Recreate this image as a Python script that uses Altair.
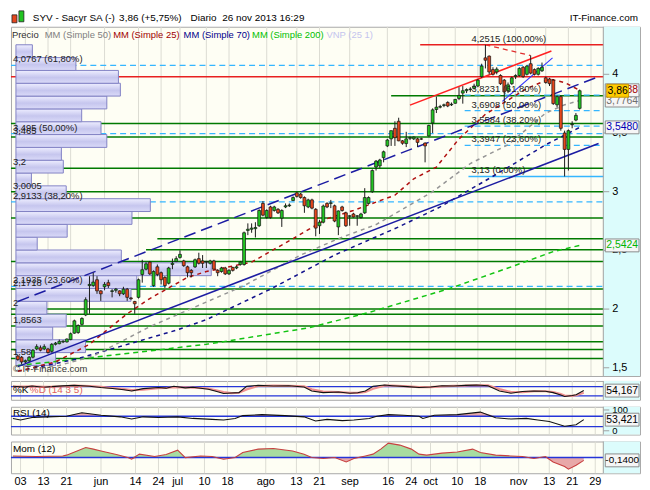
import altair as alt
import pandas as pd

# ---------------- price data: one candle per session (1 May - 26 Nov 2013) ----------------
opens = [1.60,1.59,1.55,1.56,1.59,1.66,1.67,1.66,1.66,1.64,
         1.70,1.705,1.72,1.72,1.74,1.795,1.80,1.87,1.95,2.20,
         2.20,2.25,2.155,2.19,2.225,2.15,2.16,2.155,2.13,2.17,
         2.095,2.065,2.10,2.295,2.34,2.40,2.20,2.36,2.31,2.27,
         2.22,2.38,2.405,2.44,2.41,2.36,2.33,2.36,2.43,2.41,
         2.40,2.39,2.41,2.33,2.32,2.35,2.30,2.355,2.35,2.38,
         2.38,2.67,2.68,2.685,2.71,2.90,2.78,2.87,2.84,2.85,
         2.775,2.87,2.88,2.925,2.99,2.98,2.95,2.87,2.93,2.85,
         2.71,2.74,2.90,2.90,2.88,2.70,2.87,2.82,2.79,2.81,
         2.79,2.78,2.82,2.90,3.00,3.21,3.22,3.29,3.39,3.45,
         3.54,3.60,3.433,3.41,3.455,3.45,3.45,3.45,3.414,3.475,
         3.586,3.70,3.72,3.735,3.76,3.74,3.753,3.794,3.84,3.86,
         3.87,3.88,3.90,3.98,4.14,4.155,4.04,4.02,3.99,3.95,
         3.86,3.92,3.98,3.99,4.06,4.00,4.09,4.04,4.00,4.03,
         3.97,3.96,3.95,3.74,3.81,3.50,3.36,3.57,3.61,3.71]
highs = [1.61,1.60,1.57,1.60,1.66,1.70,1.69,1.70,1.67,1.71,
         1.72,1.74,1.735,1.75,1.80,1.91,1.87,1.93,2.10,2.28,
         2.31,2.28,2.16,2.23,2.25,2.17,2.18,2.16,2.19,2.18,
         2.10,2.07,2.26,2.42,2.40,2.41,2.33,2.38,2.32,2.28,
         2.36,2.43,2.45,2.50,2.42,2.37,2.34,2.43,2.48,2.46,
         2.41,2.42,2.42,2.34,2.36,2.36,2.34,2.36,2.37,2.41,
         2.66,2.73,2.73,2.74,2.85,2.92,2.85,2.88,2.88,2.86,
         2.85,2.90,2.90,2.96,3.00,2.99,2.96,2.94,2.94,2.86,
         2.76,2.89,2.91,2.93,2.89,2.84,2.88,2.83,2.80,2.82,
         2.80,2.82,3.03,2.96,3.19,3.27,3.28,3.35,3.45,3.52,
         3.60,3.63,3.44,3.51,3.47,3.47,3.46,3.46,3.42,3.57,
         3.71,3.81,3.74,3.75,3.77,3.76,3.79,3.89,3.90,3.88,
         3.89,3.92,3.96,4.09,4.2515,4.16,4.06,4.06,4.00,3.96,
         3.93,3.98,4.00,4.06,4.07,4.08,4.16,4.05,4.06,4.10,
         3.98,3.97,3.96,3.82,3.82,3.52,3.53,3.60,3.67,3.87]
lows = [1.56,1.53,1.54,1.55,1.58,1.65,1.64,1.65,1.62,1.63,
        1.69,1.70,1.71,1.715,1.735,1.79,1.79,1.86,1.94,1.96,
        2.19,2.13,2.07,2.16,2.18,2.10,2.14,2.11,2.12,2.07,
        2.08,1.96,2.09,2.225,2.33,2.29,2.19,2.28,2.21,2.18,
        2.21,2.34,2.40,2.43,2.36,2.27,2.27,2.35,2.38,2.35,
        2.35,2.38,2.34,2.28,2.31,2.29,2.29,2.32,2.34,2.37,
        2.37,2.63,2.65,2.61,2.70,2.79,2.77,2.77,2.83,2.81,
        2.70,2.86,2.87,2.92,2.95,2.94,2.82,2.86,2.85,2.62,
        2.64,2.73,2.86,2.86,2.74,2.63,2.83,2.70,2.71,2.78,
        2.71,2.77,2.81,2.89,2.99,3.18,3.20,3.25,3.38,3.39,
        3.39,3.43,3.40,3.38,3.44,3.44,3.38,3.44,3.25,3.47,
        3.50,3.67,3.71,3.72,3.72,3.73,3.75,3.78,3.75,3.84,
        3.85,3.87,3.89,3.97,4.05,4.00,3.99,4.00,3.91,3.76,
        3.84,3.91,3.96,3.98,3.97,3.99,4.00,3.99,3.99,4.02,
        3.92,3.90,3.74,3.72,3.52,3.13,3.18,3.54,3.60,3.70]
closes = [1.57,1.55,1.56,1.59,1.65,1.68,1.65,1.68,1.63,1.70,
          1.71,1.725,1.726,1.745,1.79,1.90,1.86,1.92,2.08,2.21,
          2.23,2.155,2.13,2.21,2.20,2.156,2.17,2.13,2.17,2.10,
          2.088,2.045,2.25,2.335,2.385,2.30,2.32,2.295,2.25,2.20,
          2.35,2.39,2.43,2.466,2.37,2.31,2.31,2.42,2.39,2.39,
          2.406,2.41,2.34,2.31,2.35,2.30,2.33,2.33,2.36,2.40,
          2.65,2.68,2.69,2.695,2.84,2.80,2.84,2.78,2.87,2.82,
          2.84,2.88,2.886,2.95,2.96,2.95,2.88,2.93,2.86,2.69,
          2.74,2.878,2.87,2.905,2.75,2.836,2.84,2.71,2.795,2.785,
          2.795,2.81,2.95,2.95,3.18,3.26,3.27,3.34,3.44,3.52,
          3.46,3.433,3.413,3.45,3.46,3.465,3.42,3.448,3.39,3.564,
          3.697,3.72,3.725,3.74,3.73,3.745,3.786,3.82,3.86,3.87,
          3.875,3.90,3.95,4.07,4.12,4.02,4.00,4.044,3.92,3.85,
          3.91,3.97,3.99,4.05,3.98,4.07,4.01,4.00,4.05,4.06,
          3.93,3.92,3.75,3.81,3.54,3.36,3.52,3.575,3.65,3.86]

# date axis: session index of each labelled day
tick_sessions = [2, 8, 14, 23, 32, 38, 43, 50, 56, 66, 74, 80, 88, 98, 104, 109, 116, 122, 132, 140, 146, 152]
tick_labels = ["03", "13", "21", "jun", "14", "24", "jul", "10", "18", "ago", "13", "21",
               "sep", "16", "24", "oct", "10", "18", "nov", "13", "21", "29"]
price_ticks_v = [1.5, 2, 2.5, 3, 3.5, 4]
price_ticks_t = ["1,5", "2", "2,5", "3", "3,5", "4"]

# moving averages
mm25_s = [0, 10, 19, 24, 29, 35, 45, 50, 62, 73, 82, 89, 100, 105, 111, 117, 124, 130, 135, 141, 145, 149]
mm25_v = [1.47, 1.55, 1.70, 1.83, 1.96, 2.09, 2.27, 2.32, 2.40, 2.60, 2.77, 2.84, 2.97, 3.11, 3.21, 3.45, 3.66, 3.78, 3.88, 3.96, 3.93, 3.8638]
mm50_s = [0, 11, 20, 35, 50, 60, 75, 85, 95, 110, 120, 130, 140, 145, 149]
mm50_v = [1.47, 1.52, 1.60, 1.85, 2.06, 2.20, 2.46, 2.60, 2.72, 3.00, 3.24, 3.40, 3.67, 3.74, 3.7764]
mm70_s = [0, 15, 27, 42, 50, 67, 84, 101, 112, 127, 140, 149]
mm70_v = [1.47, 1.57, 1.68, 1.82, 1.91, 2.17, 2.46, 2.70, 2.87, 3.15, 3.40, 3.548]
mm200_s = [0, 15, 50, 55, 77, 93, 114, 130, 142, 149]
mm200_v = [1.52, 1.57, 1.70, 1.725, 1.84, 1.97, 2.17, 2.35, 2.49, 2.5424]

# trend lines (session, price)
chan_low_s, chan_low_v = [0, 154], [1.51, 3.41]
chan_up_s, chan_up_v = [0, 154], [2.065, 3.98]
red_chan_s, red_chan_v = [104, 141.5], [3.737, 4.198]
steep_s, steep_v = [128.5, 141.8], [3.77, 4.14]
peak_s, peak_v = [124, 136], [4.2515, 4.16]

# horizontal levels
green_levels = [3.58, 3.465, 3.2, 3.0005, 2.775, 2.406, 2.1718, 2.0, 1.955, 1.8563, 1.722, 1.656, 1.58]
green_part_levels, green_part_start = [3.817, 2.60, 2.505], [99, 37, 34]
fib_full_levels = [4.0767, 3.495, 2.9133, 2.1935]
fib_part_levels = [3.8231, 3.6908, 3.5584, 3.3947]
fib_part_start = 118.5
fib_zero, fib_zero_start = 3.13, 119.5
red_levels = [3.98]
red_top, red_top_start = 4.2515, 106.7

left_label_v = [4.0767, 3.495, 3.465, 3.2, 3.0005, 2.9133, 2.1935, 2.1718, 2.0, 1.8563, 1.58]
left_label_t = ["4,0767 (61,80%)", "3,495 (50,00%)", "3,465", "3,2", "3,0005", "2,9133 (38,20%)",
                "2,1935 (23,60%)", "2,1718", "2", "1,8563", "1,58"]
fib_label_v = [4.2515, 3.8231, 3.6908, 3.5584, 3.3947, 3.13]
fib_label_t = ["4,2515 (100,00%)", "3,8231 (61,80%)", "3,6908 (50,00%)", "3,5584 (38,20%)",
               "3,3947 (23,60%)", "3,13 (0,00%)"]
fib_label_session = 120.3

# volume by price (VNP 25 1), relative volume per price bin, lowest bin first
vnp_volume = [41, 72, 38, 52, 32, 119, 125, 202, 109, 22, 53, 120, 139, 52, 16, 49, 47, 94, 88, 68, 94, 108, 106, 62, 17]
vnp_min, vnp_max = 1.52, 4.2515

# stochastic %K %D (14 3 5)
sto_s = [0, 3, 5, 8, 10, 13, 16, 20, 23, 26, 29, 31, 34, 38, 40, 42, 45, 47, 51, 53, 55, 57, 59, 61, 64, 68, 72,
         76, 78, 81, 85, 88, 90, 92, 94, 97, 99, 103, 106, 109, 112, 115, 118, 121, 124, 127, 130, 133, 136,
         139, 141, 143, 144, 146, 147, 149]
sto_k = [82, 78, 84, 76, 80, 85, 88, 82, 74, 68, 60, 52, 67, 74, 70, 82, 72, 76, 63, 50, 35, 38, 41, 82, 88, 84, 86,
         78, 52, 41, 45, 37, 40, 52, 82, 90, 86, 80, 74, 78, 86, 84, 88, 90, 86, 52, 37, 48, 52,
         50, 41, 25, 16, 22, 27, 54.167]
sto_d = [80, 80, 81, 79, 79, 82, 86, 84, 78, 71, 64, 57, 60, 70, 71, 76, 75, 74, 68, 56, 44, 38, 40, 62, 84, 86, 85,
         82, 62, 48, 44, 40, 39, 45, 66, 86, 87, 82, 77, 77, 82, 85, 86, 89, 88, 64, 45, 44, 50,
         50, 45, 32, 22, 20, 24, 40]

# RSI (14)
rsi_s = [0, 2, 5, 9, 14, 18, 20, 23, 28, 31, 34, 38, 43, 47, 52, 55, 58, 60, 65, 71, 76, 79, 82, 86, 89, 93,
         95, 98, 102, 106, 107, 110, 116, 122, 126, 130, 134, 137, 140, 144, 147, 149]
rsi_v = [59.4, 51.8, 63.9, 67.0, 70.0, 86.7, 82.1, 74.5, 67.0, 56.4, 67.0, 63.9, 67.0, 59.4, 54.8, 51.8, 59.4,
         73.0, 77.6, 73.0, 67.0, 47.3, 54.8, 48.8, 51.8, 59.4, 70.0, 77.6, 74.5, 70.0, 59.4, 74.5, 77.6,
         89.7, 62.4, 56.4, 59.4, 51.8, 44.2, 21.5, 29.1, 53.421]
rsi_ticks_v, rsi_ticks_t = [0, 100], ["0", "100"]

# Momentum (12)
mom_s = [0, 6, 13, 14, 19, 21, 23, 27, 30, 31, 33, 37, 40, 43, 45, 49, 52, 55, 58, 60, 64, 68, 73, 76, 78, 81,
         84, 87, 89, 92, 94, 96, 98, 101, 104, 106, 108, 112, 116, 120, 122, 126, 130, 133, 136, 139, 141,
         144, 145, 147, 149]
mom_v = [0.08, 0.05, 0.08, 0.12, 0.50, 0.42, 0.33, 0.15, 0.0, -0.08, 0.17, 0.05, 0.15, 0.37, 0.0, 0.08, 0.05,
         -0.08, 0.0, 0.25, 0.42, 0.45, 0.33, 0.17, 0.0, -0.05, 0.0, -0.22, -0.05, 0.08, 0.17, 0.42, 0.72,
         0.62, 0.42, 0.17, 0.12, 0.22, 0.28, 0.42, 0.25, 0.12, 0.08, 0.05, -0.05, 0.05, -0.22, -0.45,
         -0.58, -0.38, -0.14]

# ---------------- layout / style ----------------
FONT = "Liberation Sans"
W, WC = 634, 597                      # full panel width, width of the cream plotting area
K0, K1 = -0.5, 154.1                  # sessions at the left / right edge of the cream area
KMAX = K0 + (K1 - K0) * W / WC
VNP_UNITS_PER_SESSION = 3.9
HM, HS, HR, HMO = 352, 19, 28, 32
xs = alt.Scale(domain=[K0, KMAX], nice=False, zero=False)
ys_main = alt.Scale(domain=[1.43, 4.405], nice=False, zero=False)
ys_sto = alt.Scale(domain=[-5.8, 116.8], nice=False, zero=False)
ys_rsi = alt.Scale(domain=[-18, 115.4], nice=False, zero=False)
ys_mom = alt.Scale(domain=[-0.78, 0.80], nice=False, zero=False)
CYAN = "#dcfcfc"
GRID = "#dcdcd2"
AXIS_GRAY = "#a0a0a0"


def one(**cols):
    return pd.DataFrame({k: [v] for k, v in cols.items()})


def cyan(h):
    return alt.Chart(one(z=0)).mark_rect(color=CYAN).encode(
        x=alt.value(WC), x2=alt.value(W), y=alt.value(0), y2=alt.value(h))


def vgrid(h):
    return alt.Chart(pd.DataFrame({"k": tick_sessions})).mark_rule(color=GRID, strokeWidth=1).encode(
        x=alt.X("k:Q", scale=xs, axis=None), y=alt.value(0), y2=alt.value(h))


def right_axis(h, ys, vals=None, texts=None, size=11):
    layers = [alt.Chart(one(z=0)).mark_rule(color=AXIS_GRAY, strokeWidth=1).encode(
        x=alt.value(WC), y=alt.value(0), y2=alt.value(h))]
    if vals:
        df = pd.DataFrame({"v": vals, "t": texts})
        layers.append(alt.Chart(df).mark_rule(color=AXIS_GRAY, strokeWidth=1).encode(
            x=alt.value(WC), x2=alt.value(WC + 6), y=alt.Y("v:Q", scale=ys, axis=None)))
        layers.append(alt.Chart(df).mark_text(align="left", baseline="middle", fontSize=size, font=FONT,
                                              color="#000").encode(
            x=alt.value(WC + 9), y=alt.Y("v:Q", scale=ys, axis=None), text="t:N"))
    return layers


def text(t, x, y, color="#000", size=10, align="left", baseline="middle", weight="normal"):
    return alt.Chart(one(t=t)).mark_text(align=align, baseline=baseline, fontSize=size, color=color,
                                         font=FONT, fontWeight=weight).encode(
        text="t:N", x=alt.value(x), y=alt.value(y))


def rect_px(x1, x2, y1, y2, fill, stroke="#222"):
    return alt.Chart(one(z=0)).mark_rect(fill=fill, stroke=stroke, strokeWidth=0.8).encode(
        x=alt.value(x1), x2=alt.value(x2), y=alt.value(y1), y2=alt.value(y2))


def hrules(levels, ys, color, width, dash=None, starts=None):
    kw = dict(color=color, strokeWidth=width)
    if dash:
        kw["strokeDash"] = dash
    if starts is None:
        df = pd.DataFrame({"v": levels})
        x = alt.value(0)
    else:
        df = pd.DataFrame({"v": levels, "ks": starts})
        x = alt.X("ks:Q", scale=xs, axis=None)
    return alt.Chart(df).mark_rule(**kw).encode(x=x, x2=alt.value(WC), y=alt.Y("v:Q", scale=ys, axis=None))


def line(sess, vals, ys, color, width=1.5, dash=None):
    kw = dict(color=color, strokeWidth=width)
    if dash:
        kw["strokeDash"] = dash
    df = pd.DataFrame({"k": sess, "v": vals})
    return alt.Chart(df).mark_line(**kw).encode(
        x=alt.X("k:Q", scale=xs, axis=None), y=alt.Y("v:Q", scale=ys, axis=None))


def vbox(v, t, ys, tcolor, fill="#f6f6f6", stroke="#8c8c8c", w=34, h=13, xc=616, size=10.5):
    r = h / w
    shape = f"M-1,-{r:.3f}L1,-{r:.3f}L1,{r:.3f}L-1,{r:.3f}Z"
    df = one(v=v, t=t)
    box = alt.Chart(df).mark_point(shape=shape, size=w * w, filled=True, fill=fill, stroke=stroke,
                                   strokeWidth=1, opacity=1, fillOpacity=1).encode(
        x=alt.value(xc), y=alt.Y("v:Q", scale=ys, axis=None))
    lab = alt.Chart(df).mark_text(fontSize=size, font=FONT, color=tcolor, baseline="middle").encode(
        x=alt.value(xc), y=alt.Y("v:Q", scale=ys, axis=None), text="t:N")
    return [box, lab]


# ---------------- main price panel ----------------
cdf = pd.DataFrame({"k": list(range(len(closes))), "o": opens, "h": highs, "l": lows, "c": closes})
cdf["col"] = ["#22c422" if c >= o else "#e5461c" for o, c in zip(opens, closes)]

step = (vnp_max - vnp_min) / len(vnp_volume)
vdf = pd.DataFrame({"lo": [vnp_min + i * step for i in range(len(vnp_volume))],
                    "hi": [vnp_min + (i + 1) * step for i in range(len(vnp_volume))],
                    "vol": vnp_volume})
vnp = alt.Chart(vdf).transform_calculate(
    xs0=f"{K0}", xe=f"{K0} + datum.vol / {VNP_UNITS_PER_SESSION}"
).mark_rect(
    fill=alt.Gradient(gradient="linear", x1=0, x2=0, y1=0, y2=1,
                      stops=[alt.GradientStop(color="#eeeeff", offset=0),
                             alt.GradientStop(color="#c6c6ee", offset=0.55),
                             alt.GradientStop(color="#dadaf8", offset=1)]),
    stroke="#8282c4", strokeWidth=1
).encode(x=alt.X("xs0:Q", scale=xs, axis=None), x2="xe:Q",
         y=alt.Y("lo:Q", scale=ys_main, axis=None), y2="hi:Q")

wick = alt.Chart(cdf).mark_rule(color="#1a1a1a", strokeWidth=1).encode(
    x=alt.X("k:Q", scale=xs, axis=None), y=alt.Y("l:Q", scale=ys_main, axis=None), y2="h:Q")
body = alt.Chart(cdf).mark_bar(size=2.9, stroke="#111111", strokeWidth=0.7).encode(
    x=alt.X("k:Q", scale=xs, axis=None),
    y=alt.Y("o:Q", scale=ys_main, axis=None), y2="c:Q",
    color=alt.Color("col:N", scale=None))

left_labels = alt.Chart(pd.DataFrame({"v": left_label_v, "t": left_label_t})).mark_text(
    align="left", baseline="bottom", dy=-1, fontSize=9.5, font=FONT, color="#222222").encode(
    x=alt.value(2), y=alt.Y("v:Q", scale=ys_main, axis=None), text="t:N")
fib_labels = alt.Chart(pd.DataFrame({"v": fib_label_v, "t": fib_label_t,
                                     "k": [fib_label_session] * len(fib_label_v)})).mark_text(
    align="left", baseline="bottom", dy=-1, fontSize=9.5, font=FONT, color="#222222").encode(
    x=alt.X("k:Q", scale=xs, axis=None), y=alt.Y("v:Q", scale=ys_main, axis=None), text="t:N")

main_layers = [
    vgrid(HM),
    cyan(HM),
    hrules(green_levels, ys_main, "#007a00", 1.5),
    hrules(green_part_levels, ys_main, "#007a00", 1.5, starts=green_part_start),
    hrules(fib_full_levels, ys_main, "#35b6ff", 1.3, dash=[6, 4]),
    hrules(fib_part_levels, ys_main, "#35b6ff", 1.3, dash=[6, 4], starts=[fib_part_start] * len(fib_part_levels)),
    hrules([fib_zero], ys_main, "#35b6ff", 1.5, starts=[fib_zero_start]),
    hrules(red_levels, ys_main, "#e82020", 1.5),
    hrules([red_top], ys_main, "#e82020", 1.5, starts=[red_top_start]),
    vnp,
    line(mm200_s, mm200_v, ys_main, "#12c412", 1.5, [5, 4]),
    line(mm70_s, mm70_v, ys_main, "#12128c", 1.5, [4, 4]),
    line(mm50_s, mm50_v, ys_main, "#959595", 1.5, [4, 4]),
    line(mm25_s, mm25_v, ys_main, "#b01010", 1.5, [4, 4]),
    line(chan_low_s, chan_low_v, ys_main, "#1c1ca2", 1.5),
    line(chan_up_s, chan_up_v, ys_main, "#1c1ca2", 1.5, [12, 6]),
    line(red_chan_s, red_chan_v, ys_main, "#ff2222", 1.5),
    line(steep_s, steep_v, ys_main, "#3434ff", 1.1),
    line(peak_s, peak_v, ys_main, "#e03030", 1.3, [5, 4]),
    wick, body,
    left_labels, fib_labels,
    text("\u00a9 IT-Finance.com", 2, HM - 7, "#333333", 9.5),
]
main_layers += right_axis(HM, ys_main, price_ticks_v, price_ticks_t)
main_layers += vbox(3.7764, "3,7764", ys_main, "#6e6e6e")
main_layers += vbox(3.548, "3,5480", ys_main, "#0000b4")
main_layers += vbox(2.5424, "2,5424", ys_main, "#00b400")
main_layers += vbox(3.8638, "3,8638", ys_main, "#a00000")
main_layers += vbox(3.86, "3,86", ys_main, "#000000", fill="#ffcc00", stroke="#c89600", w=22, xc=611.5)
# legend row inside the panel
for t, x, c in [("Precio", 1, "#303030"), ("MM (Simple 50)", 34, "#808080"), ("MM (Simple 25)", 103, "#a00000"),
                ("MM (Simple 70)", 174, "#00008b"), ("MM (Simple 200)", 243, "#00c000"),
                ("VNP (25 1)", 318, "#c4c4ee")]:
    main_layers.append(text(t, x, 8, c, 9.5))
# header above the panel
main_layers += [
    rect_px(1, 6, -12, -4, "#e5461c"), rect_px(8, 13, -16, -5, "#22c422"),
    text("SYV - Sacyr SA (-)", 22, -9, "#000", 10),
    text("3,86 (+5,75%)", 109, -9, "#000", 10),
    text("Diario", 181, -9, "#000", 10),
    text("26 nov 2013 16:29", 213, -9, "#000", 10),
    text("IT-Finance.com", W - 2, -9, "#000", 10, align="right"),
]
main = alt.layer(*main_layers).properties(width=W, height=HM)

# ---------------- stochastic panel ----------------
sto_layers = [
    vgrid(HS),
    cyan(HS),
    hrules([80, 20], ys_sto, "#2535d8", 1.4),
    line(sto_s, sto_d, ys_sto, "#f09090", 2.2),
    line(sto_s, sto_k, ys_sto, "#111111", 1.1),
    text("%K", 2, 9, "#000", 10),
    text("%D (14 3 5)", 19, 9, "#e06060", 10),
] + right_axis(HS, ys_sto) + vbox(54.167, "54,167", ys_sto, "#000")
sto = alt.layer(*sto_layers).properties(width=W, height=HS)

# ---------------- RSI panel ----------------
rdf = pd.DataFrame({"k": rsi_s, "v": rsi_v})
rsi_fill = alt.Chart(rdf).transform_calculate(top="max(datum.v, 70)", base="70").mark_area(
    color="#e8a8a8", opacity=1).encode(
    x=alt.X("k:Q", scale=xs, axis=None), y=alt.Y("top:Q", scale=ys_rsi, axis=None), y2="base:Q")
rsi_layers = [
    vgrid(HR),
    cyan(HR),
    rsi_fill,
    hrules([70, 20], ys_rsi, "#2535d8", 1.4),
    line(rsi_s, rsi_v, ys_rsi, "#111111", 1.1),
    text("RSI (14)", 2, 6, "#000", 10),
] + right_axis(HR, ys_rsi, rsi_ticks_v, rsi_ticks_t, size=9.5) + vbox(53.421, "53,421", ys_rsi, "#000")
rsi = alt.layer(*rsi_layers).properties(width=W, height=HR)

# ---------------- momentum panel ----------------
mdf = pd.DataFrame({"k": mom_s, "v": mom_v})
mom_pos = alt.Chart(mdf).transform_calculate(top="max(datum.v, 0)", base="0").mark_area(
    color="#a8dca0", opacity=1).encode(
    x=alt.X("k:Q", scale=xs, axis=None), y=alt.Y("top:Q", scale=ys_mom, axis=None), y2="base:Q")
mom_neg = alt.Chart(mdf).transform_calculate(bot="min(datum.v, 0)", base="0").mark_area(
    color="#e8a8a8", opacity=1).encode(
    x=alt.X("k:Q", scale=xs, axis=None), y=alt.Y("bot:Q", scale=ys_mom, axis=None), y2="base:Q")
date_labels = alt.Chart(pd.DataFrame({"k": tick_sessions, "t": tick_labels})).mark_text(
    align="center", baseline="top", fontSize=11, font=FONT, color="#000").encode(
    x=alt.X("k:Q", scale=xs, axis=None), y=alt.value(HMO + 3), text="t:N")
mom_layers = [
    vgrid(HMO),
    cyan(HMO),
    mom_pos, mom_neg,
    hrules([0], ys_mom, "#2535d8", 1.4),
    line(mom_s, mom_v, ys_mom, "#c84040", 1.1),
    text("Mom (12)", 2, 8, "#000", 10),
    date_labels,
] + right_axis(HMO, ys_mom) + vbox(-0.14, "-0,1400", ys_mom, "#000", size=10)
mom = alt.layer(*mom_layers).properties(width=W, height=HMO)

chart = alt.vconcat(main, sto, rsi, mom, spacing=3).properties(
    padding={"left": 0, "top": 0, "right": 0, "bottom": 0}
).configure(font=FONT, background="#ffffff").configure_view(
    fill="#fefef4", stroke="#a8a8a8", strokeWidth=1)

chart.save("out.html", embed_options={"renderer": "svg", "actions": False})
